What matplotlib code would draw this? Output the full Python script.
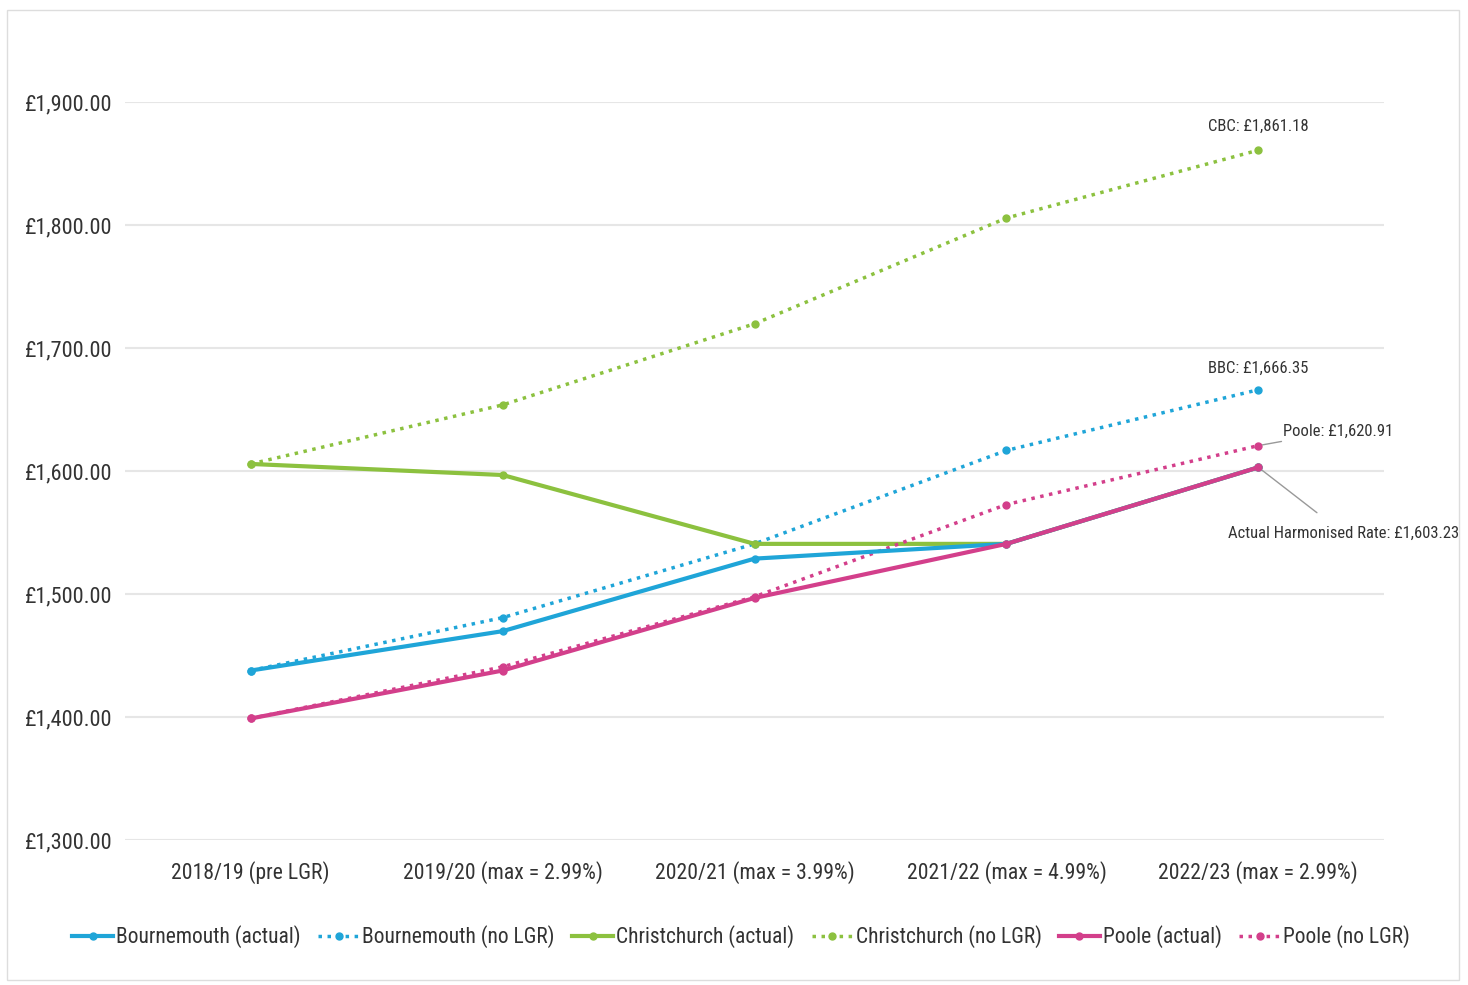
import numpy as np
import matplotlib.pyplot as plt
from matplotlib.patches import Rectangle

plt.rcParams['font.family'] = ['Arial Narrow', 'Liberation Sans Narrow', 'Roboto Condensed',
                               'Archivo Narrow', 'PT Sans Narrow', 'Liberation Sans', 'DejaVu Sans']

# Kategorier og verdier lest av bildet
years = ['2018/19 (pre LGR)', '2019/20 (max = 2.99%)', '2020/21 (max = 3.99%)',
         '2021/22 (max = 4.99%)', '2022/23 (max = 2.99%)']
bourne_actual = [1438, 1470, 1529, 1541, 1603.23]
bourne_nolgr = [1438, 1481, 1541, 1617, 1666.35]
christ_actual = [1606, 1597, 1541, 1541, 1603.23]
christ_nolgr = [1606, 1654, 1720, 1806, 1861.18]
poole_actual = [1399, 1438, 1497, 1541, 1603.23]
poole_nolgr = [1399, 1441, 1498, 1573, 1620.91]

blue = '#1fa5d8'
green = '#8cc13f'
pink = '#d33f8b'

fig = plt.figure(figsize=(14.68, 9.85), dpi=100)
ax = fig.add_axes([0.085, 0.147, 0.858, 0.749])
x = np.arange(len(years))

ax.plot(x, bourne_actual, color=blue, lw=3, marker='o', ms=5, label='Bournemouth (actual)', zorder=4)
ax.plot(x, bourne_nolgr, color=blue, lw=2.5, ls=(0, (1, 1.6)), marker='o', ms=5, label='Bournemouth (no LGR)', zorder=3)
ax.plot(x, christ_actual, color=green, lw=3, marker='o', ms=5, label='Christchurch (actual)', zorder=3)
ax.plot(x, christ_nolgr, color=green, lw=2.5, ls=(0, (1, 1.6)), marker='o', ms=5, label='Christchurch (no LGR)', zorder=3)
ax.plot(x, poole_actual, color=pink, lw=3, marker='o', ms=5, label='Poole (actual)', zorder=5)
ax.plot(x, poole_nolgr, color=pink, lw=2.5, ls=(0, (1, 1.6)), marker='o', ms=5, label='Poole (no LGR)', zorder=3)

ax.set_xlim(-0.5, 4.5)
ax.set_ylim(1300, 1900)
ax.set_yticks(np.arange(1300, 1901, 100))
ax.set_yticklabels(['£{:,.2f}'.format(v) for v in range(1300, 1901, 100)])
ax.set_xticks(x)
ax.set_xticklabels(years)
ax.tick_params(length=0, labelsize=16, colors='#333333')
ax.tick_params(axis='x', labelsize=15.7, pad=15)
ax.tick_params(axis='y', pad=9)
ax.grid(axis='y', color='#e6e6e6', lw=1.5)
ax.set_axisbelow(True)
for s in ax.spines.values():
    s.set_visible(False)

# Merkelapper
ax.annotate('CBC: £1,861.18', (4, christ_nolgr[4]), xytext=(0, 12), textcoords='offset points',
            ha='center', va='bottom', fontsize=12, color='#333333')
ax.annotate('BBC: £1,666.35', (4, bourne_nolgr[4]), xytext=(0, 10), textcoords='offset points',
            ha='center', va='bottom', fontsize=12, color='#333333')
ax.annotate('Poole: £1,620.91', (4, poole_nolgr[4]), xytext=(18, 5), textcoords='offset points',
            ha='left', va='bottom', fontsize=12, color='#333333',
            arrowprops=dict(arrowstyle='-', color='#999999', lw=1, shrinkA=0, shrinkB=3))
ax.annotate('Actual Harmonised Rate: £1,603.23', (4, poole_actual[4]), xytext=(-22, -42),
            textcoords='offset points', ha='left', va='top', fontsize=12, color='#333333',
            arrowprops=dict(arrowstyle='-', color='#999999', lw=1, shrinkA=12, shrinkB=2))

leg = fig.legend(loc='center', bbox_to_anchor=(0.505, 0.049), ncol=6, frameon=False,
                 fontsize=15.5, handlelength=1.9, handletextpad=0.15, columnspacing=0.8)
for t in leg.get_texts():
    t.set_color('#333333')

fig.patches.append(Rectangle((0.005, 0.005), 0.989, 0.985, transform=fig.transFigure,
                             fill=False, edgecolor='#dddddd', lw=1))

fig.savefig('out.png', dpi=100)
